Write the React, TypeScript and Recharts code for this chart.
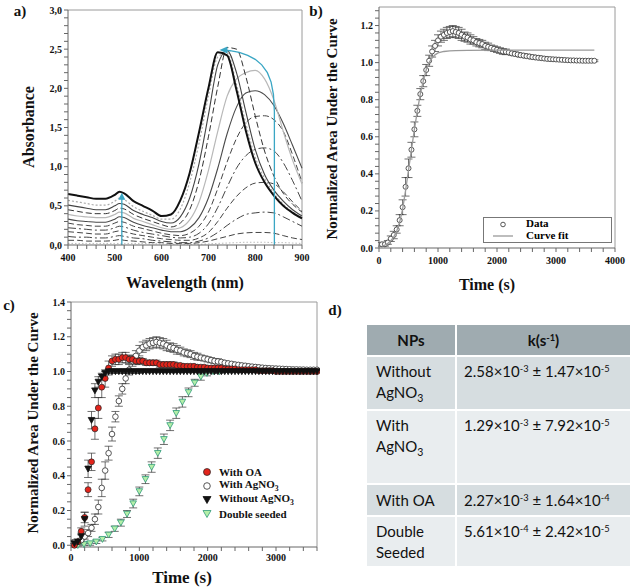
import React from "react";
import {
  LineChart,
  Line,
  XAxis,
  YAxis,
  ReferenceLine,
  ScatterChart,
  Scatter,
  ErrorBar,
  Legend,
} from "recharts";

const SERIF = "'Liberation Serif', 'Times New Roman', serif";
const SANS = "Lato, 'Open Sans', sans-serif";
const TEAL = "#3aa6c4";

// ---------- a) absorbance spectra ----------
const wavelengths = [400, 420, 440, 460, 480, 500, 510, 520, 540, 560, 580, 600, 620, 640, 660, 680, 700, 720, 740, 760, 780, 800, 820, 840, 860, 880, 900];
const spec0 = [0.02, 0.02, 0.02, 0.02, 0.02, 0.02, 0.02, 0.02, 0.02, 0.02, 0.015, 0.015, 0.01, 0.01, 0.01, 0.01, 0.015, 0.02, 0.025, 0.03, 0.035, 0.035, 0.035, 0.03, 0.03, 0.025, 0.02];
const spec1 = [0.06, 0.06, 0.05, 0.05, 0.05, 0.06, 0.07, 0.06, 0.05, 0.04, 0.03, 0.03, 0.02, 0.02, 0.02, 0.03, 0.05, 0.08, 0.11, 0.14, 0.155, 0.16, 0.16, 0.15, 0.12, 0.09, 0.07];
const spec2 = [0.11, 0.1, 0.1, 0.09, 0.09, 0.11, 0.12, 0.11, 0.09, 0.08, 0.06, 0.05, 0.04, 0.03, 0.03, 0.05, 0.09, 0.16, 0.25, 0.33, 0.39, 0.41, 0.42, 0.41, 0.36, 0.3, 0.24];
const spec3 = [0.17, 0.16, 0.15, 0.14, 0.14, 0.17, 0.18, 0.17, 0.14, 0.12, 0.1, 0.08, 0.07, 0.06, 0.06, 0.09, 0.16, 0.3, 0.47, 0.62, 0.73, 0.79, 0.8, 0.78, 0.68, 0.55, 0.43];
const spec4 = [0.22, 0.21, 0.2, 0.19, 0.19, 0.22, 0.24, 0.23, 0.19, 0.16, 0.14, 0.12, 0.1, 0.09, 0.1, 0.15, 0.27, 0.48, 0.74, 0.98, 1.14, 1.22, 1.24, 1.2, 1.05, 0.82, 0.56];
const spec5 = [0.28, 0.26, 0.25, 0.24, 0.24, 0.28, 0.3, 0.29, 0.24, 0.21, 0.18, 0.15, 0.13, 0.12, 0.15, 0.24, 0.42, 0.72, 1.06, 1.36, 1.56, 1.64, 1.65, 1.6, 1.45, 1.15, 0.8];
const spec6 = [0.33, 0.31, 0.3, 0.29, 0.29, 0.33, 0.36, 0.35, 0.29, 0.25, 0.22, 0.19, 0.17, 0.17, 0.22, 0.35, 0.6, 0.98, 1.42, 1.76, 1.94, 1.97, 1.92, 1.78, 1.55, 1.27, 0.98];
const spec7 = [0.39, 0.37, 0.36, 0.35, 0.35, 0.39, 0.42, 0.41, 0.34, 0.3, 0.26, 0.22, 0.2, 0.22, 0.32, 0.55, 0.95, 1.45, 1.9, 2.12, 2.2, 2.23, 2.12, 1.85, 1.45, 1.08, 0.78];
const spec8 = [0.45, 0.43, 0.41, 0.4, 0.4, 0.44, 0.47, 0.46, 0.39, 0.34, 0.3, 0.26, 0.23, 0.28, 0.45, 0.82, 1.38, 2.02, 2.52, 2.5, 2.15, 1.65, 1.2, 0.88, 0.66, 0.52, 0.42];
const spec9 = [0.51, 0.49, 0.47, 0.45, 0.45, 0.5, 0.53, 0.52, 0.44, 0.39, 0.35, 0.3, 0.28, 0.36, 0.6, 1.04, 1.66, 2.3, 2.48, 2.2, 1.7, 1.22, 0.9, 0.7, 0.56, 0.45, 0.37];
const spec10 = [0.57, 0.55, 0.53, 0.51, 0.51, 0.56, 0.6, 0.58, 0.49, 0.43, 0.38, 0.33, 0.33, 0.46, 0.8, 1.3, 1.9, 2.4, 2.45, 2.05, 1.55, 1.12, 0.85, 0.66, 0.52, 0.42, 0.35];
const spec11 = [0.65, 0.63, 0.61, 0.59, 0.59, 0.64, 0.68, 0.66, 0.56, 0.5, 0.44, 0.37, 0.39, 0.57, 0.92, 1.44, 2.0, 2.46, 2.42, 1.98, 1.46, 1.05, 0.8, 0.63, 0.5, 0.41, 0.34];
const spectra = [spec0, spec1, spec2, spec3, spec4, spec5, spec6, spec7, spec8, spec9, spec10, spec11];

const specStyles = [
  { stroke: "#bbbbbb", width: 1, dash: "1.5 2" },
  { stroke: "#444", width: 1, dash: "6 3" },
  { stroke: "#444", width: 1, dash: "8 3 2 3" },
  { stroke: "#444", width: 1, dash: "6 3" },
  { stroke: "#444", width: 1, dash: "8 3 2 3" },
  { stroke: "#444", width: 1, dash: "6 3" },
  { stroke: "#4a4a4a", width: 1.1, dash: undefined },
  { stroke: "#b8b8b8", width: 1.2, dash: undefined },
  { stroke: "#333", width: 1, dash: "6 3" },
  { stroke: "#444", width: 1.1, dash: undefined },
  { stroke: "#aaaaaa", width: 1.2, dash: "2 2" },
  { stroke: "#111", width: 2, dash: undefined },
];

const arrowUpW = [515, 515];
const arrowUpA = [0, 0.64];
const arrowShiftW = [841, 841, 839, 834, 826, 814, 800, 784, 766, 746, 730];
const arrowShiftA = [0, 1.7, 1.92, 2.08, 2.2, 2.3, 2.37, 2.42, 2.46, 2.48, 2.49];

const aXMajor = [400, 500, 600, 700, 800, 900];
const aYMajor = [0, 0.5, 1, 1.5, 2, 2.5, 3];

// ---------- b) normalized area, with AgNO3 ----------
const bTimes = Array.from({ length: 73 }, (_, i) => 50 + i * 50);
const bValues = [
  0.02, 0.02, 0.03, 0.05, 0.07, 0.1, 0.15, 0.22, 0.33, 0.43,
  0.53, 0.64, 0.74, 0.83, 0.9, 0.96, 1.01, 1.06, 1.09, 1.12,
  1.14, 1.15, 1.16, 1.165, 1.17, 1.165, 1.16, 1.15, 1.14, 1.135,
  1.125, 1.12, 1.11, 1.105, 1.1, 1.09, 1.085, 1.08, 1.075, 1.07,
  1.065, 1.06, 1.058, 1.055, 1.05, 1.047, 1.044, 1.04, 1.038, 1.035,
  1.033, 1.03, 1.028, 1.026, 1.024, 1.022, 1.02, 1.019, 1.018, 1.017,
  1.016, 1.015, 1.014, 1.013, 1.012, 1.012, 1.011, 1.011, 1.01, 1.01,
  1.01, 1.01, 1.01,
];
const bErrors = [
  0.01, 0.01, 0.01, 0.015, 0.02, 0.02, 0.03, 0.04, 0.05, 0.05,
  0.04, 0.04, 0.03, 0.03, 0.03, 0.03, 0.03, 0.03, 0.03, 0.03,
  0.03, 0.03, 0.03, 0.03, 0.03, 0.03, 0.03, 0.03, 0.025, 0.025,
  0.025, 0.02, 0.02, 0.02, 0.02, 0.02, 0.02, 0.015, 0.015, 0.015,
  0.015, 0.015, 0.015, 0.01, 0.01, 0.01, 0.01, 0.01, 0.01, 0.01,
  0.01, 0.01, 0.01, 0.01, 0.008, 0.008, 0.008, 0.008, 0.008, 0.006,
  0.006, 0.006, 0.006, 0.006, 0.006, 0.005, 0.005, 0.005, 0.005, 0.005,
  0.005, 0.005, 0.005,
];
const fitTimes = [50, 100, 150, 200, 250, 300, 350, 400, 450, 500, 550, 600, 650, 700, 750, 800, 850, 900, 950, 1000, 1100, 1200, 1300, 1500, 2000, 3000, 3650];
const fitValues = [0.01, 0.015, 0.025, 0.04, 0.06, 0.09, 0.14, 0.21, 0.31, 0.42, 0.53, 0.64, 0.74, 0.83, 0.9, 0.96, 1.0, 1.025, 1.042, 1.052, 1.06, 1.063, 1.065, 1.066, 1.067, 1.067, 1.067];

const bXMajor = [0, 1000, 2000, 3000, 4000];
const bYMajor = [0, 0.2, 0.4, 0.6, 0.8, 1.0, 1.2];

// ---------- c) comparison ----------
const cTimes = bTimes.slice(0, 72);
const oaValues = [
  0.0, 0.02, 0.08, 0.16, 0.32, 0.48, 0.67, 0.79, 0.91, 0.96,
  1.02, 1.06, 1.07, 1.07, 1.08, 1.08, 1.07, 1.07, 1.06, 1.06,
  1.06, 1.05, 1.05, 1.05, 1.05, 1.04, 1.04, 1.04, 1.04, 1.04,
  1.035, 1.035, 1.03, 1.03, 1.03, 1.03, 1.025, 1.025, 1.025, 1.02,
  1.02, 1.02, 1.02, 1.02, 1.015, 1.015, 1.015, 1.015, 1.01, 1.01,
  1.01, 1.01, 1.01, 1.01, 1.005, 1.005, 1.005, 1.005, 1.005, 1.0,
  1.0, 1.0, 1.0, 1.0, 1.0, 1.0, 1.0, 1.0, 1.0, 1.0,
  1.0, 1.0,
];
const oaErrors = [
  0.01, 0.01, 0.02, 0.03, 0.04, 0.05, 0.06, 0.06, 0.06, 0.05,
  0.04, 0.03, 0.03, 0.03, 0.03, 0.03, 0.025, 0.02, 0.02, 0.02,
  0.015, 0.015, 0.015, 0.015, 0.015, 0.015, 0.015, 0.015, 0.015, 0.015,
  0.01, 0.01, 0.01, 0.01, 0.01, 0.01, 0.01, 0.01, 0.01, 0.01,
  0.01, 0.01, 0.01, 0.01, 0.01, 0.01, 0.01, 0.01, 0.01, 0.01,
  0.008, 0.008, 0.008, 0.008, 0.008, 0.008, 0.008, 0.008, 0.008, 0.008,
  0.005, 0.005, 0.005, 0.005, 0.005, 0.005, 0.005, 0.005, 0.005, 0.005,
  0.005, 0.005,
];
const withoutValues = [
  0.01, 0.02, 0.05, 0.15, 0.44, 0.72, 0.89, 0.94, 0.97, 0.99,
  1.0, 1.0, 1.0, 1.0, 1.0, 1.0, 1.0, 1.0, 1.0, 1.0,
  1.0, 1.0, 1.0, 1.0, 1.0, 1.0, 1.0, 1.0, 1.0, 1.0,
  1.0, 1.0, 1.0, 1.0, 1.0, 1.0, 1.0, 1.0, 1.0, 1.0,
  1.0, 1.0, 1.0, 1.0, 1.0, 1.0, 1.0, 1.0, 1.0, 1.0,
  1.0, 1.0, 1.0, 1.0, 1.0, 1.0, 1.0, 1.0, 1.0, 1.0,
  1.0, 1.0, 1.0, 1.0, 1.0, 1.0, 1.0, 1.0, 1.0, 1.0,
  1.0, 1.0,
];
const withoutErrors = [
  0.01, 0.01, 0.02, 0.04, 0.05, 0.05, 0.04, 0.03, 0.02, 0.01,
  0.01, 0.01, 0.01, 0.01, 0.01, 0.01, 0.01, 0.01, 0.01, 0.01,
  0.005, 0.005, 0.005, 0.005, 0.005, 0.005, 0.005, 0.005, 0.005, 0.005,
  0.005, 0.005, 0.005, 0.005, 0.005, 0.005, 0.005, 0.005, 0.005, 0.005,
  0.005, 0.005, 0.005, 0.005, 0.005, 0.005, 0.005, 0.005, 0.005, 0.005,
  0.005, 0.005, 0.005, 0.005, 0.005, 0.005, 0.005, 0.005, 0.005, 0.005,
  0.005, 0.005, 0.005, 0.005, 0.005, 0.005, 0.005, 0.005, 0.005, 0.005,
  0.005, 0.005,
];
const dsTimes = [100, 190, 280, 370, 460, 550, 640, 730, 820, 910, 1000, 1090, 1180, 1270, 1360, 1450, 1540, 1630, 1720, 1810, 1900, 1990, 2080, 2170];
const dsValues = [0.0, 0.005, 0.01, 0.02, 0.035, 0.06, 0.095, 0.13, 0.18, 0.24, 0.31, 0.38, 0.45, 0.53, 0.61, 0.69, 0.76, 0.825, 0.88, 0.935, 0.97, 0.99, 1.0, 1.0];
const dsErrors = [0.005, 0.005, 0.01, 0.01, 0.01, 0.015, 0.015, 0.02, 0.02, 0.025, 0.025, 0.025, 0.03, 0.03, 0.03, 0.03, 0.03, 0.03, 0.025, 0.02, 0.02, 0.015, 0.01, 0.01];

const cXMajor = [0, 1000, 2000, 3000];
const cYMajor = [0, 0.2, 0.4, 0.6, 0.8, 1.0, 1.2, 1.4];

// ---------- d) rate constants ----------
const npNames = [["Without", "AgNO3"], ["With", "AgNO3"], ["With OA"], ["Double", "Seeded"]];
const kMantissa = ["2.58", "1.29", "2.27", "5.61"];
const kExponent = ["-3", "-3", "-3", "-4"];
const kErrMantissa = ["1.47", "7.92", "1.64", "2.42"];
const kErrExponent = ["-5", "-5", "-4", "-5"];

// ---------- helpers ----------
const steps = (from: number, to: number, step: number) =>
  Array.from({ length: Math.round((to - from) / step) + 1 }, (_, i) => Math.round((from + i * step) * 1000) / 1000);
const isMajor = (majors: number[], v: number) => majors.some((m) => Math.abs(m - v) < 1e-6);

const tickStyle = { fontFamily: SERIF, fontSize: 10, fontWeight: 700, fill: "#111" };
const AXIS = "#666";
const FRAME = "#9a9a9a";

const chem = (s: string) => {
  const i = s.indexOf("AgNO3");
  if (i < 0) return s;
  return (
    <>
      {s.slice(0, i)}AgNO<sub style={{ fontSize: "0.7em" }}>3</sub>
    </>
  );
};

const arrowHead = (dir: "up" | "left", len: number) => (p: any) => {
  const { cx, cy, index } = p;
  if (index !== len - 1 || cx == null) return <g key={`ah-${index}`} />;
  const pts =
    dir === "up"
      ? `${cx},${cy - 2} ${cx - 3.5},${cy + 5} ${cx + 3.5},${cy + 5}`
      : `${cx - 3},${cy} ${cx + 5},${cy - 3.5} ${cx + 5},${cy + 3.5}`;
  return <polygon key={`ah-${index}`} points={pts} fill={TEAL} />;
};

const openCircle = (p: any) => <circle cx={p.cx} cy={p.cy} r={2.5} fill="#fff" stroke="#444" strokeWidth={0.9} />;
const openCircleC = (p: any) => <circle cx={p.cx} cy={p.cy} r={2.8} fill="#fff" stroke="#444" strokeWidth={0.9} />;
const redDot = (p: any) => <circle cx={p.cx} cy={p.cy} r={3} fill="#e3241b" stroke="#222" strokeWidth={0.7} />;
const downTri = (fill: string, stroke: string) => (p: any) => (
  <polygon
    points={`${p.cx - 3.3},${p.cy - 2.7} ${p.cx + 3.3},${p.cy - 2.7} ${p.cx},${p.cy + 3.2}`}
    fill={fill}
    stroke={stroke}
    strokeWidth={0.8}
  />
);
const noShape = () => <g />;

const rowsOf = (t: number[], v: number[], e?: number[]) => t.map((x, i) => ({ t: x, v: v[i], e: e ? e[i] : 0 }));

// ---------- panels ----------
function PanelA() {
  const rows = wavelengths.map((w, i) => {
    const r: any = { w };
    spectra.forEach((s, k) => (r["s" + k] = s[i]));
    return r;
  });
  const upRows = arrowUpW.map((w, i) => ({ w, a: arrowUpA[i] }));
  const shiftRows = arrowShiftW.map((w, i) => ({ w, a: arrowShiftA[i] }));
  const xTicks = steps(400, 900, 20);
  const yTicks = steps(0, 3, 0.1);

  return (
    <LineChart width={320} height={290} data={rows} margin={{ top: 10, right: 18, bottom: 15, left: 0 }}>
      <XAxis
        type="number"
        dataKey="w"
        domain={[400, 900]}
        ticks={xTicks}
        interval={0}
        tickFormatter={(v) => (isMajor(aXMajor, v) ? String(v) : "")}
        tick={tickStyle}
        tickSize={4}
        tickMargin={5}
        height={30}
        stroke={AXIS}
      />
      <YAxis
        type="number"
        domain={[0, 3]}
        ticks={yTicks}
        interval={0}
        tickFormatter={(v) => (isMajor(aYMajor, v) ? v.toFixed(1).replace(".", ",") : "")}
        tick={tickStyle}
        tickSize={4}
        width={68}
        stroke={AXIS}
      />
      <ReferenceLine y={3} stroke={FRAME} />
      <ReferenceLine x={900} stroke={FRAME} />
      {spectra.map((_, k) => (
        <Line
          key={k}
          type="monotone"
          dataKey={"s" + k}
          stroke={specStyles[k].stroke}
          strokeWidth={specStyles[k].width}
          strokeDasharray={specStyles[k].dash}
          dot={false}
          isAnimationActive={false}
        />
      ))}
      <Line
        data={upRows}
        type="linear"
        dataKey="a"
        stroke={TEAL}
        strokeWidth={1.3}
        dot={arrowHead("up", upRows.length)}
        isAnimationActive={false}
      />
      <Line
        data={shiftRows}
        type="linear"
        dataKey="a"
        stroke={TEAL}
        strokeWidth={1.3}
        dot={arrowHead("left", shiftRows.length)}
        isAnimationActive={false}
      />
    </LineChart>
  );
}

function LegendB() {
  return (
    <div
      style={{
        width: 127,
        height: 24,
        border: "1px solid #777",
        background: "#fff",
        position: "relative",
        fontFamily: SERIF,
        fontWeight: 700,
        fontSize: 11,
      }}
    >
      <svg width={30} height={24} style={{ position: "absolute", left: 0, top: 0 }}>
        <circle cx={19} cy={6.5} r={2.3} fill="#fff" stroke="#444" strokeWidth={0.9} />
        <line x1={9} x2={29} y1={18} y2={18} stroke="#9a9a9a" strokeWidth={1.3} />
      </svg>
      <div style={{ position: "absolute", left: 42, top: -1, lineHeight: "13px" }}>Data</div>
      <div style={{ position: "absolute", left: 42, top: 11, lineHeight: "13px" }}>Curve fit</div>
    </div>
  );
}

function PanelB() {
  const dataRows = rowsOf(bTimes, bValues, bErrors);
  const fitRows = rowsOf(fitTimes, fitValues);
  return (
    <ScatterChart width={314} height={290} margin={{ top: 7, right: 19, bottom: 14, left: 0 }}>
      <XAxis
        type="number"
        dataKey="t"
        domain={[0, 4000]}
        ticks={steps(0, 4000, 200)}
        interval={0}
        tickFormatter={(v) => (isMajor(bXMajor, v) ? String(v) : "")}
        tick={tickStyle}
        tickSize={4}
        tickMargin={5}
        height={28}
        stroke={AXIS}
      />
      <YAxis
        type="number"
        dataKey="v"
        domain={[0, 1.3]}
        ticks={steps(0, 1.28, 0.04)}
        interval={0}
        tickFormatter={(v) => (isMajor(bYMajor, v) ? v.toFixed(1) : "")}
        tick={tickStyle}
        tickSize={4}
        width={59}
        stroke={AXIS}
      />
      <ReferenceLine y={1.3} stroke={FRAME} />
      <ReferenceLine x={4000} stroke={FRAME} />
      <Scatter data={dataRows} shape={openCircle} isAnimationActive={false}>
        <ErrorBar dataKey="e" direction="y" width={4} stroke="#333" strokeWidth={0.7} />
      </Scatter>
      <Scatter
        data={fitRows}
        shape={noShape}
        line={{ stroke: "#9a9a9a", strokeWidth: 1.3 }}
        isAnimationActive={false}
      />
      <Legend
        layout="vertical"
        align="center"
        verticalAlign="middle"
        content={() => <LegendB />}
        wrapperStyle={{ position: "absolute", left: 163, top: 217, width: 129 }}
      />
    </ScatterChart>
  );
}

const cLegendLabels = ["With OA", "With AgNO3", "Without AgNO3", "Double seeded"];

function LegendC() {
  const markers = [
    <circle cx={6} cy={7} r={3.5} fill="#e3241b" stroke="#222" strokeWidth={0.7} />,
    <circle cx={6} cy={7} r={3.3} fill="#fff" stroke="#444" strokeWidth={0.9} />,
    <polygon points="2,3.5 10,3.5 6,10.5" fill="#111" stroke="#111" strokeWidth={0.8} />,
    <polygon points="2,3.5 10,3.5 6,10.5" fill="#b4efa8" stroke="#2e9a7a" strokeWidth={0.8} />,
  ];
  return (
    <div style={{ fontFamily: SERIF, fontWeight: 700, fontSize: 11, color: "#111" }}>
      {cLegendLabels.map((label, i) => (
        <div key={label} style={{ display: "flex", alignItems: "center", height: 14 }}>
          <svg width={12} height={14}>{markers[i]}</svg>
          <span style={{ marginLeft: 6, whiteSpace: "nowrap" }}>{chem(label)}</span>
        </div>
      ))}
    </div>
  );
}

function PanelC() {
  const agRows = rowsOf(cTimes, bValues.slice(0, 72), bErrors.slice(0, 72));
  const oaRows = rowsOf(cTimes, oaValues, oaErrors);
  const woRows = rowsOf(cTimes, withoutValues, withoutErrors);
  const dsRows = rowsOf(dsTimes, dsValues, dsErrors);
  return (
    <ScatterChart width={320} height={298} margin={{ top: 12, right: 3, bottom: 15, left: 0 }}>
      <XAxis
        type="number"
        dataKey="t"
        domain={[0, 3600]}
        ticks={steps(0, 3600, 200)}
        interval={0}
        tickFormatter={(v) => (isMajor(cXMajor, v) ? String(v) : "")}
        tick={tickStyle}
        tickSize={4}
        tickMargin={3}
        height={26}
        stroke={AXIS}
      />
      <YAxis
        type="number"
        dataKey="v"
        domain={[0, 1.4]}
        ticks={steps(0, 1.4, 0.05)}
        interval={0}
        tickFormatter={(v) => (isMajor(cYMajor, v) ? v.toFixed(1) : "")}
        tick={tickStyle}
        tickSize={4}
        width={71}
        stroke={AXIS}
      />
      <ReferenceLine y={1.4} stroke={FRAME} />
      <ReferenceLine x={3600} stroke={FRAME} />
      <Scatter data={dsRows} shape={downTri("#b4efa8", "#2e9a7a")} isAnimationActive={false}>
        <ErrorBar dataKey="e" direction="y" width={4} stroke="#333" strokeWidth={0.7} />
      </Scatter>
      <Scatter data={agRows} shape={openCircleC} isAnimationActive={false}>
        <ErrorBar dataKey="e" direction="y" width={4} stroke="#333" strokeWidth={0.7} />
      </Scatter>
      <Scatter data={oaRows} shape={redDot} isAnimationActive={false}>
        <ErrorBar dataKey="e" direction="y" width={4} stroke="#333" strokeWidth={0.7} />
      </Scatter>
      <Scatter data={woRows} shape={downTri("#111", "#111")} isAnimationActive={false}>
        <ErrorBar dataKey="e" direction="y" width={4} stroke="#333" strokeWidth={0.7} />
      </Scatter>
      <Legend
        layout="vertical"
        align="center"
        verticalAlign="middle"
        content={() => <LegendC />}
        wrapperStyle={{ position: "absolute", left: 201, top: 175, width: 115 }}
      />
    </ScatterChart>
  );
}

function TableD() {
  const rowHeights = [51, 74, 32, 51];
  const rowColors = ["#d6dde0", "#e9edef", "#d6dde0", "#e9edef"];
  const cell = { border: "2px solid #fff", padding: 0, verticalAlign: "top" as const };
  const sup = (s: string) => <sup style={{ fontSize: "0.62em", verticalAlign: "0.55em", lineHeight: 0 }}>{s}</sup>;
  return (
    <table
      style={{
        position: "absolute",
        left: 365,
        top: 323,
        width: 267,
        borderCollapse: "collapse",
        fontFamily: SANS,
        fontSize: 15,
        color: "#111",
        tableLayout: "fixed",
      }}
    >
      <colgroup>
        <col style={{ width: 90 }} />
        <col />
      </colgroup>
      <tbody>
        <tr style={{ height: 32, background: "#9fabb0" }}>
          <td style={{ ...cell, verticalAlign: "middle", textAlign: "center", fontWeight: 700 }}>NPs</td>
          <td style={{ ...cell, verticalAlign: "middle", textAlign: "center", fontWeight: 700 }}>
            k(s{sup("-1")})
          </td>
        </tr>
        {npNames.map((lines, i) => (
          <tr key={i} style={{ height: rowHeights[i], background: rowColors[i] }}>
            <td
              style={{
                ...cell,
                verticalAlign: lines.length === 1 ? "middle" : "top",
                paddingLeft: 9,
                paddingTop: lines.length === 1 ? 0 : 4,
                lineHeight: "21px",
              }}
            >
              {lines.map((l, j) => (
                <div key={j}>{chem(l)}</div>
              ))}
            </td>
            <td
              style={{
                ...cell,
                verticalAlign: lines.length === 1 ? "middle" : "top",
                paddingLeft: 7,
                paddingTop: lines.length === 1 ? 0 : 4,
                lineHeight: "21px",
                whiteSpace: "nowrap",
              }}
            >
              {kMantissa[i]}×10{sup(kExponent[i])} ± {kErrMantissa[i]}×10{sup(kErrExponent[i])}
            </td>
          </tr>
        ))}
      </tbody>
    </table>
  );
}

const titles = [
  { text: "Absorbance", x: 29, y: 127, rot: true, size: 16 },
  { text: "Wavelength (nm)", x: 185, y: 283, rot: false, size: 16 },
  { text: "Normalized Area Under the Curve", x: 332, y: 129, rot: true, size: 15 },
  { text: "Time (s)", x: 487, y: 285, rot: false, size: 16 },
  { text: "Normalized Area Under the Curve", x: 33, y: 423, rot: true, size: 15 },
  { text: "Time (s)", x: 182, y: 577, rot: false, size: 17 },
  { text: "a)", x: 20, y: 11, rot: false, size: 15 },
  { text: "b)", x: 316, y: 11, rot: false, size: 15 },
  { text: "c)", x: 9, y: 305, rot: false, size: 15 },
  { text: "d)", x: 335, y: 310, rot: false, size: 15 },
];

export default function App() {
  return (
    <div
      style={{
        position: "absolute",
        left: 0,
        top: 0,
        width: 634,
        height: 588,
        background: "#fff",
        overflow: "hidden",
        fontFamily: SERIF,
      }}
    >
      <style>{`.recharts-cartesian-axis-tick-value, .recharts-cartesian-axis-tick-value tspan { font-family: ${SERIF} !important; font-weight: 700 !important; font-size: 10px; }`}</style>
      <div style={{ position: "absolute", left: 0, top: 0 }}>
        <PanelA />
      </div>
      <div style={{ position: "absolute", left: 320, top: 0 }}>
        <PanelB />
      </div>
      <div style={{ position: "absolute", left: 0, top: 290 }}>
        <PanelC />
      </div>
      <TableD />
      {titles.map((t, i) => (
        <div
          key={i}
          style={{
            position: "absolute",
            left: t.x,
            top: t.y,
            transform: `translate(-50%, -50%)${t.rot ? " rotate(-90deg)" : ""}`,
            whiteSpace: "nowrap",
            fontFamily: SERIF,
            fontWeight: 700,
            fontSize: t.size,
            color: "#111",
            lineHeight: 1,
          }}
        >
          {t.text}
        </div>
      ))}
    </div>
  );
}
